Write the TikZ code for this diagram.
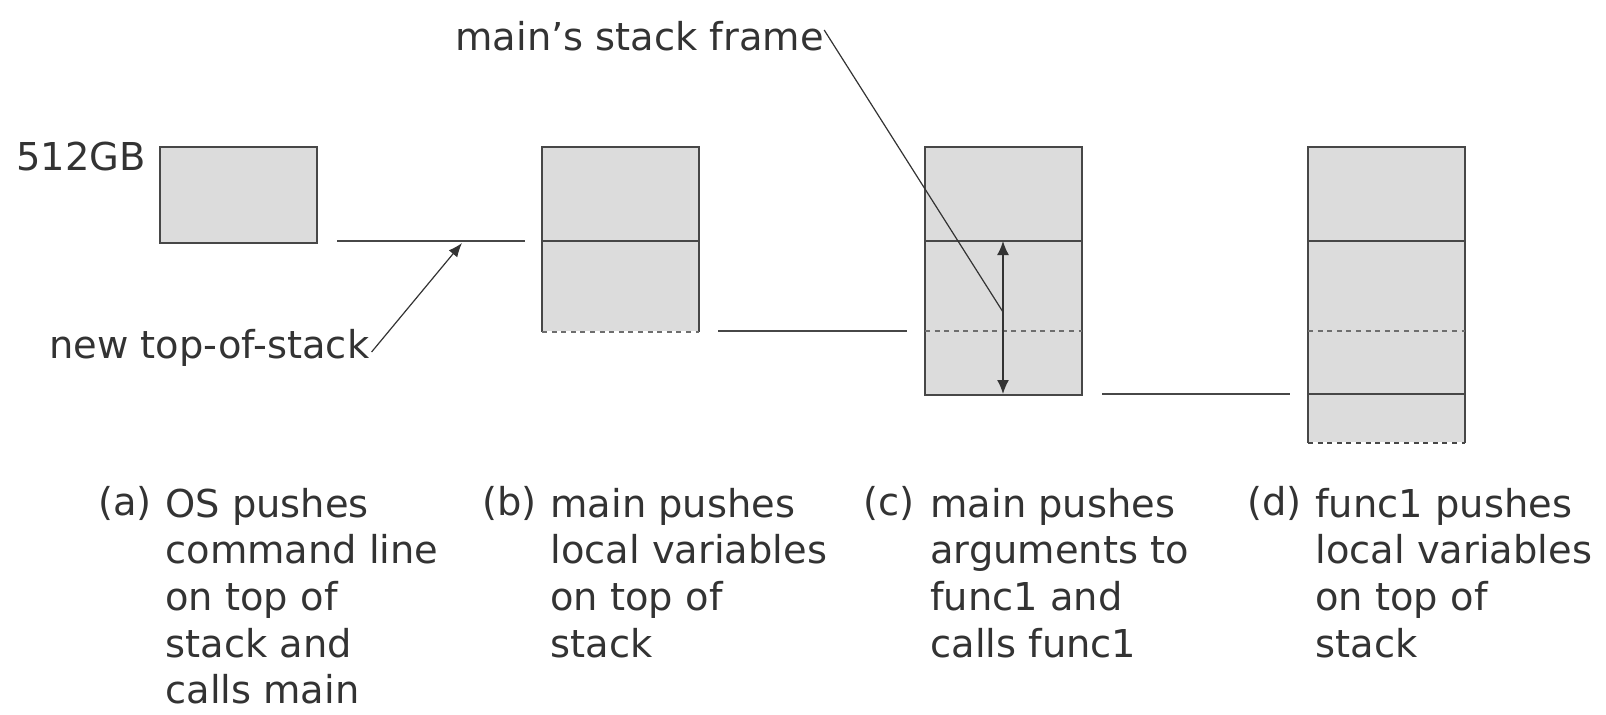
\documentclass[tikz,border=0pt]{standalone}
\usepackage{fontspec}
\setmainfont{DejaVu Sans}
\usetikzlibrary{arrows.meta}
\definecolor{ink}{HTML}{333333}
\definecolor{edge}{HTML}{474747}
\definecolor{cell}{HTML}{DCDCDC}
\definecolor{hint}{HTML}{6E6E6E}

% caption block whose baseline is that of its first line
\newcommand{\capblock}[1]{\begin{tabular}[t]{@{}l@{}}#1\end{tabular}}

\begin{document}
\begin{tikzpicture}[x=0.5pt,y=-0.5pt,
  lbl/.style={inner sep=0pt, anchor=base west, text=ink,
    font=\fontsize{19.2pt}{23.35pt}\selectfont},
  capt/.style={lbl},
  frame/.style={draw=none, fill=cell, inner sep=0pt, minimum width=78pt,
    anchor=north west},
  wall/.style={draw=edge, line width=1.1pt},
  level/.style={draw=edge, line width=1.1pt},
  dotline/.style={draw=hint, line width=1.3pt, dash pattern=on 2.5pt off 2.3pt},
  dashedge/.style={draw=edge, line width=1.3pt, dash pattern=on 2.5pt off 2.3pt},
  ptr/.style={draw=ink, line width=0.6pt, -{Latex[length=7pt,width=5.5pt]}},
  span/.style={draw=ink, line width=0.8pt,
    {Latex[length=7pt,width=6pt]}-{Latex[length=7pt,width=6pt]}},
]
\useasboundingbox (0,0) rectangle (1606,714);

% stack levels (top-of-stack after each push)
\coordinate (L1) at (0,241);
\coordinate (L2) at (0,331);
\coordinate (L3) at (0,394);

% stack snapshots
\node[frame, minimum height=47.5pt]  (boxA) at (160,147) {};
\node[frame, minimum height=92pt]    (boxB) at (542,147) {};
\node[frame, minimum height=123.5pt] (boxC) at (925,147) {};
\node[frame, minimum height=147.5pt] (boxD) at (1308,147) {};

% (a)
\draw[wall] (boxA.south west) rectangle (boxA.north east);

% (b)
\draw[wall] (boxB.south west) -- (boxB.north west) -- (boxB.north east) -- (boxB.south east);
\draw[level] (boxB.west |- L1) -- (boxB.east |- L1);
\draw[dotline] (boxB.south west) -- (boxB.south east);

% (c)
\draw[wall] (boxC.south west) rectangle (boxC.north east);
\draw[level] (boxC.west |- L1) -- (boxC.east |- L1);
\draw[dotline] (boxC.west |- L2) -- (boxC.east |- L2);

% (d)
\draw[wall] (boxD.south west) -- (boxD.north west) -- (boxD.north east) -- (boxD.south east);
\draw[level] (boxD.west |- L1) -- (boxD.east |- L1);
\draw[dotline] (boxD.west |- L2) -- (boxD.east |- L2);
\draw[level] (boxD.west |- L3) -- (boxD.east |- L3);
\draw[dashedge] (boxD.south west) -- (boxD.south east);

% top-of-stack markers between snapshots
\coordinate (topAs) at (337,241);  \coordinate (topAe) at (525,241);
\coordinate (topBs) at (718,331);  \coordinate (topBe) at (907,331);
\coordinate (topCs) at (1102,394); \coordinate (topCe) at (1290,394);
\draw[level] (topAs) -- (topAe);
\draw[level] (topBs) -- (topBe);
\draw[level] (topCs) -- (topCe);

% labels
\node[lbl] (size) at (16,170) {512GB};
\node[lbl] (newtop) at (49,358) {new top-of-stack};
\node[lbl] (msf) at (455,50) {main’s stack frame};

\coordinate (topAmark) at (462,243);
\draw[ptr] ([xshift=1pt,yshift=3pt]newtop.base east) -- (topAmark);

% extent of main's frame
\coordinate (spanTop) at (1003,241);
\coordinate (spanBot) at (1003,394);
\draw[span] (spanTop) -- (spanBot);
\coordinate (spanHit) at (1003,312);
\draw[draw=ink, line width=0.6pt] ([yshift=10pt]msf.base east) -- (spanHit);

% captions
\node[lbl] (tagA) at (98,515)  {(a)};
\node[lbl] (tagB) at (482,515) {(b)};
\node[lbl] (tagC) at (863,515) {(c)};
\node[lbl] (tagD) at (1247,515) {(d)};
\node[capt] (capA) at (165,517)  {\capblock{OS pushes\\command line\\on top of\\stack and\\calls main}};
\node[capt] (capB) at (550,517)  {\capblock{main pushes\\local variables\\on top of\\stack}};
\node[capt] (capC) at (930,517)  {\capblock{main pushes\\arguments to\\func1 and\\calls func1}};
\node[capt] (capD) at (1315,517) {\capblock{func1 pushes\\local variables\\on top of\\stack}};
\end{tikzpicture}
\end{document}
